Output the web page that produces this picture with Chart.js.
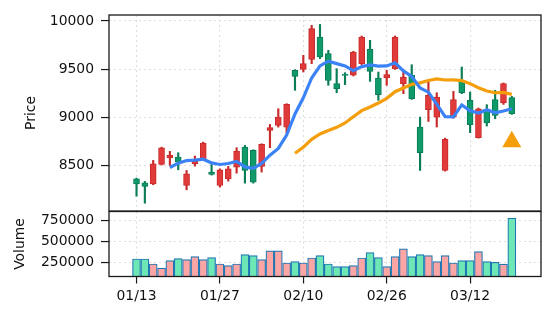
<!DOCTYPE html>
<html>
<head>
<meta charset="utf-8">
<script src="https://cdn.jsdelivr.net/npm/chart.js@4.4.1/dist/chart.umd.min.js"></script>
<style>
  html, body { margin: 0; padding: 0; background: #fff; }
  #wrap { position: relative; width: 556px; height: 322px; background: #fff; }
  canvas { position: absolute; left: 0; }
</style>
</head>
<body>
<div id="wrap">
  <canvas id="chart-price" width="556" height="212" style="top:0"></canvas>
  <canvas id="chart-volume" width="556" height="111" style="top:211px"></canvas>
</div>
<script>
// trading days
var dates = ['01/13','01/14','01/15','01/16','01/17','01/20','01/21','01/22','01/23','01/24',
             '01/27','01/28','01/29','01/30','01/31','02/03','02/04','02/05','02/06','02/07',
             '02/10','02/11','02/12','02/13','02/14','02/18','02/19','02/20','02/21','02/25',
             '02/26','02/27','02/28','03/03','03/04','03/05','03/06','03/07','03/10','03/11',
             '03/12','03/13','03/14','03/17','03/18','03/19'];

var openPrices  = [8361,8320,8309,8510,8580,8587,8292,8517,8569,8431,
                   8292,8361,8483,8691,8656,8490,8864,8916,8898,9487,
                   9496,9600,9834,9661,9349,9445,9436,9557,9706,9408,
                   9408,9505,9349,9436,8899,9079,9002,8448,9002,9384,
                   9176,8788,9080,9183,9148,9204];
var highPrices  = [8368,8334,8552,8690,8646,8632,8448,8597,8743,8510,
                   8465,8490,8684,8708,8663,8725,8926,9089,9141,9494,
                   9643,9955,9964,9695,9505,9463,9685,9844,9799,9470,
                   9488,9844,9488,9546,9002,9366,9255,8784,9269,9522,
                   9262,9096,9131,9280,9356,9217];
var lowPrices   = [8181,8108,8300,8505,8500,8455,8247,8493,8559,8400,
                   8275,8337,8420,8316,8316,8431,8684,8898,8836,9280,
                   9470,9557,9609,9332,9255,9339,9429,9547,9373,9176,
                   9332,9498,9245,9186,8448,8957,8899,8441,8992,9245,
                   8840,8784,8909,8985,9134,9030];
var closePrices = [8309,8282,8517,8684,8604,8535,8413,8542,8732,8406,
                   8455,8465,8649,8448,8327,8718,8892,9002,9134,9425,
                   9557,9921,9626,9384,9297,9435,9678,9834,9477,9235,
                   9443,9834,9418,9193,8632,9228,9210,8770,9183,9255,
                   8923,9089,8942,9020,9349,9037];
var volumes = [290000,290000,230000,181000,270000,294000,282000,319000,282000,306000,
               230000,210000,230000,343000,331000,282000,387000,387000,242000,258000,
               242000,302000,331000,230000,198000,198000,210000,302000,367000,306000,
               198000,319000,411000,319000,343000,331000,258000,331000,242000,270000,
               270000,379000,258000,250000,228000,780000];

// 5 and 20 day averages
var ma5 = [null,null,null,null,8479,8524,8551,8556,8565,8526,
           8510,8520,8541,8485,8469,8521,8607,8677,8815,9034,
           9202,9408,9533,9583,9557,9533,9484,9526,9544,9532,
           9533,9565,9481,9425,9304,9261,9136,9007,9005,9129,
           9068,9044,9079,9046,9065,9088];
var ma20 = [null,null,null,null,null,null,null,null,null,null,
            null,null,null,null,null,null,null,null,null,8627,
            8689,8771,8827,8862,8896,8941,9005,9069,9107,9148,
            9197,9266,9304,9342,9357,9382,9398,9387,9389,9381,
            9349,9307,9273,9255,9258,9238];

var signalIndex = 45;
var signalPrice = 8745;

var priceTicks = [8500, 9000, 9500, 10000];
var volumeTicks = [250000, 500000, 750000];
var dateTicks = [0, 10, 20, 30, 40];

var tickFont = { family: "'DejaVu Sans'", size: 13.9 };
var textColor = '#111';
var gridColor = '#dedede';

var upFill = '#e03a3a', upEdge = '#c92a2a';
var downFill = '#109a6a', downEdge = '#0b7d55';

var isUp = closePrices.map(function (c, i) { return c >= openPrices[i]; });

var frame = {
  id: 'frame',
  afterDraw: function (chart) {
    var a = chart.chartArea, ctx = chart.ctx;
    ctx.save();
    ctx.strokeStyle = '#1a1a1a';
    ctx.lineWidth = 1.3;
    ctx.strokeRect(a.left, a.top, a.right - a.left, a.bottom - a.top);
    ctx.restore();
  }
};

function fixTicks(values) {
  return function (scale) {
    scale.ticks = values.map(function (v) { return { value: v }; });
  };
}
function noPad(size, key) {
  return function (scale) {
    if (size !== undefined) scale[key] = size;
    scale.paddingTop = 0; scale.paddingBottom = 0;
    scale.paddingLeft = 0; scale.paddingRight = 0;
  };
}

// price panel -----------------------------------------------------------
var ctx = document.getElementById('chart-price').getContext('2d');

new Chart(ctx, {
  type: 'bar',
  data: {
    datasets: [{
      type: 'scatter',
      data: [{ x: signalIndex, y: signalPrice }],
      pointStyle: 'triangle',
      pointRadius: 11,
      backgroundColor: '#f59e0b',
      borderColor: '#f59e0b',
      borderWidth: 0,
      order: 0
    }, {
      type: 'line',
      data: ma5.map(function (v, i) { return { x: i, y: v }; }),
      borderColor: '#3b82f6',
      borderWidth: 3.2,
      pointRadius: 0,
      tension: 0,
      order: 1
    }, {
      type: 'line',
      data: ma20.map(function (v, i) { return { x: i, y: v }; }),
      borderColor: '#f59e0b',
      borderWidth: 3.2,
      pointRadius: 0,
      tension: 0,
      order: 2
    }, {
      data: openPrices.map(function (o, i) { return { x: i, y: [o, closePrices[i]] }; }),
      backgroundColor: isUp.map(function (u) { return u ? upFill : downFill; }),
      borderColor: isUp.map(function (u) { return u ? upEdge : downEdge; }),
      borderWidth: 1,
      borderSkipped: false,
      barThickness: 6,
      grouped: false,
      order: 3
    }, {
      data: lowPrices.map(function (l, i) { return { x: i, y: [l, highPrices[i]] }; }),
      backgroundColor: isUp.map(function (u) { return u ? upEdge : downEdge; }),
      borderWidth: 0,
      barThickness: 1.5,
      grouped: false,
      order: 4
    }]
  },
  options: {
    responsive: false,
    animation: false,
    events: [],
    layout: { autoPadding: false, padding: { left: 0, right: 15, top: 15, bottom: 1 } },
    plugins: { legend: { display: false }, tooltip: { enabled: false } },
    scales: {
      x: {
        type: 'linear',
        min: -3.3,
        max: 48.5,
        offset: false,
        afterBuildTicks: fixTicks(dateTicks),
        afterFit: noPad(0, 'height'),
        ticks: { display: false },
        grid: { offset: false, color: gridColor, lineWidth: 1.1, drawTicks: false },
        border: { display: false, dash: [2, 3] }
      },
      y: {
        min: 8027,
        max: 10062,
        afterBuildTicks: fixTicks(priceTicks),
        afterFit: noPad(109, 'width'),
        ticks: {
          font: tickFont,
          color: textColor,
          padding: 7,
          callback: function (v) { return String(v); }
        },
        grid: { color: gridColor, lineWidth: 1.1, tickLength: 8, tickColor: '#1a1a1a', tickWidth: 1.2 },
        border: { display: false, dash: [2, 3] },
        title: {
          display: true,
          text: 'Price',
          font: tickFont,
          color: textColor,
          padding: { top: 23.5, bottom: 0 }
        }
      }
    }
  },
  plugins: [frame]
});

// volume panel ----------------------------------------------------------
var ctx2 = document.getElementById('chart-volume').getContext('2d');

new Chart(ctx2, {
  type: 'bar',
  data: {
    datasets: [{
      data: volumes.map(function (v, i) { return { x: i, y: v }; }),
      backgroundColor: isUp.map(function (u) { return u ? '#fca5a5' : '#6ee7b7'; }),
      borderColor: '#1f77b4',
      borderWidth: 1.2,
      borderSkipped: false,
      barThickness: 8
    }]
  },
  options: {
    responsive: false,
    animation: false,
    events: [],
    layout: { autoPadding: false, padding: { left: 0, right: 15, top: 0.5, bottom: 0 } },
    plugins: { legend: { display: false }, tooltip: { enabled: false } },
    scales: {
      x: {
        type: 'linear',
        min: -3.3,
        max: 48.5,
        offset: false,
        afterBuildTicks: fixTicks(dateTicks),
        afterFit: noPad(45.5, 'height'),
        ticks: {
          font: tickFont,
          color: textColor,
          padding: 5,
          maxRotation: 0,
          callback: function (v) { return dates[v]; }
        },
        grid: { offset: false, color: gridColor, lineWidth: 1.1, tickLength: 7, tickColor: '#1a1a1a', tickWidth: 1.2 },
        border: { display: false, dash: [2, 3] }
      },
      y: {
        min: 80000,
        max: 860000,
        afterBuildTicks: fixTicks(volumeTicks),
        afterFit: noPad(109, 'width'),
        ticks: {
          font: tickFont,
          color: textColor,
          padding: 7,
          callback: function (v) { return String(v); }
        },
        grid: { color: gridColor, lineWidth: 1.1, tickLength: 8, tickColor: '#1a1a1a', tickWidth: 1.2 },
        border: { display: false, dash: [2, 3] },
        title: {
          display: true,
          text: 'Volume',
          font: tickFont,
          color: textColor,
          padding: { top: 12.5, bottom: 0 }
        }
      }
    }
  },
  plugins: [frame]
});
</script>
</body>
</html>
